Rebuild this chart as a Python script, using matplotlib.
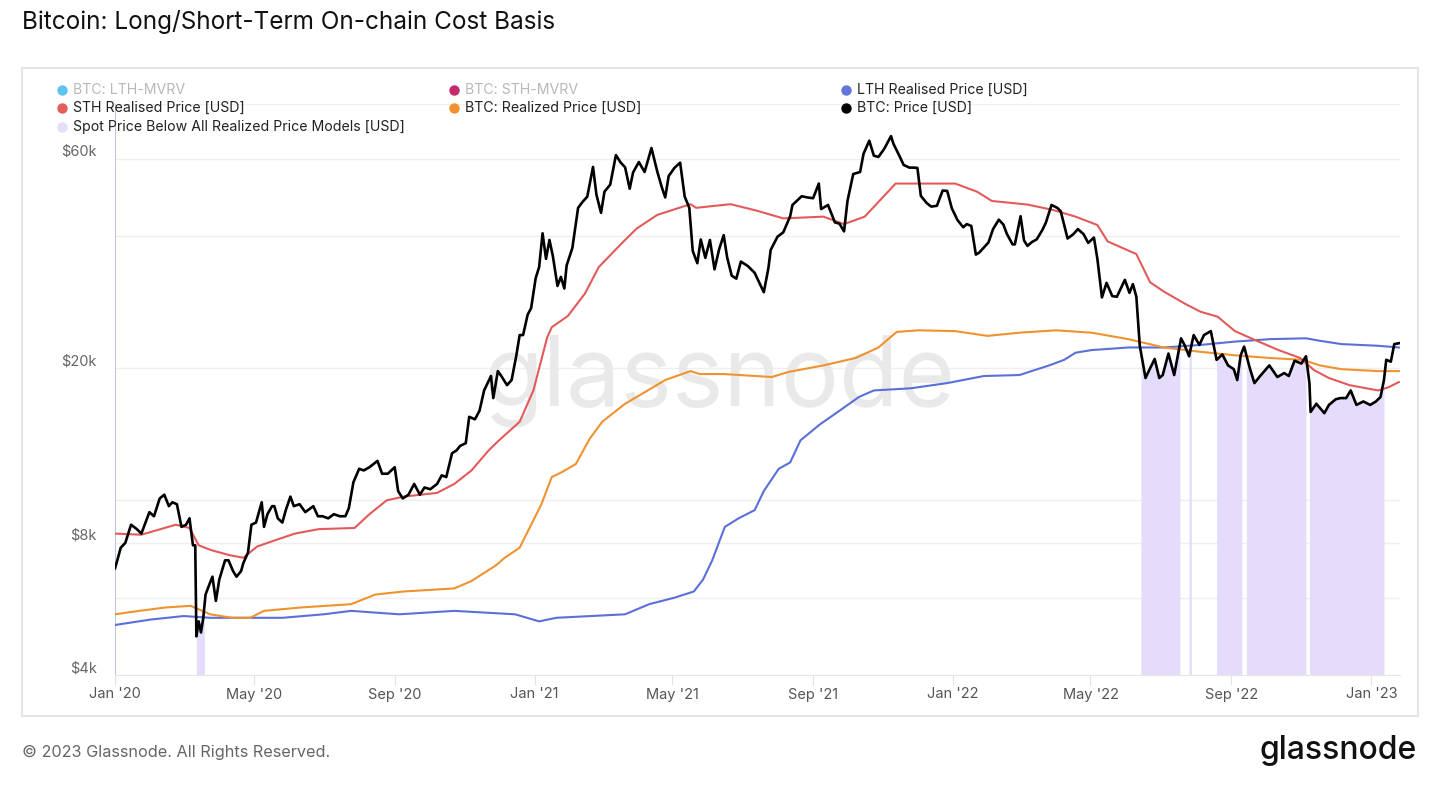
import numpy as np
import pandas as pd
import matplotlib
matplotlib.use('Agg')
import matplotlib.pyplot as plt
import matplotlib.dates as mdates
import matplotlib.transforms as mtransforms
from matplotlib.patches import Rectangle
from matplotlib.lines import Line2D

plt.rcParams['font.family'] = ['Inter', 'DejaVu Sans']

# BTC price (date, k USD)
price_pts = [
    ("2020-01-01", 7.0), ("2020-01-03", 7.3), ("2020-01-06", 7.8), ("2020-01-10", 8.0),
    ("2020-01-15", 8.8), ("2020-01-20", 8.6), ("2020-01-24", 8.4), ("2020-01-31", 9.4),
    ("2020-02-04", 9.2), ("2020-02-09", 10.1), ("2020-02-13", 10.3), ("2020-02-17", 9.7),
    ("2020-02-20", 9.9), ("2020-02-24", 9.8), ("2020-02-28", 8.7), ("2020-03-03", 8.8),
    ("2020-03-06", 9.1), ("2020-03-09", 7.9), ("2020-03-11", 7.9), ("2020-03-12", 4.9),
    ("2020-03-14", 5.3), ("2020-03-16", 5.0), ("2020-03-18", 5.4), ("2020-03-20", 6.1),
    ("2020-03-23", 6.4), ("2020-03-26", 6.7), ("2020-03-29", 5.9), ("2020-04-01", 6.6),
    ("2020-04-06", 7.3), ("2020-04-09", 7.3), ("2020-04-13", 6.9), ("2020-04-16", 6.7),
    ("2020-04-20", 6.9), ("2020-04-22", 7.2), ("2020-04-26", 7.6), ("2020-04-29", 8.8),
    ("2020-05-03", 8.9), ("2020-05-08", 9.9), ("2020-05-10", 8.7), ("2020-05-13", 9.3),
    ("2020-05-17", 9.7), ("2020-05-19", 9.7), ("2020-05-22", 9.1), ("2020-05-26", 8.9),
    ("2020-05-29", 9.5), ("2020-06-02", 10.2), ("2020-06-05", 9.7), ("2020-06-10", 9.8),
    ("2020-06-15", 9.4), ("2020-06-22", 9.7), ("2020-06-26", 9.2), ("2020-06-30", 9.2),
    ("2020-07-05", 9.1), ("2020-07-10", 9.3), ("2020-07-15", 9.2), ("2020-07-20", 9.2),
    ("2020-07-23", 9.6), ("2020-07-27", 11.0), ("2020-08-01", 11.8), ("2020-08-05", 11.7),
    ("2020-08-10", 11.9), ("2020-08-17", 12.3), ("2020-08-21", 11.5), ("2020-08-26", 11.5),
    ("2020-09-01", 11.9), ("2020-09-04", 10.5), ("2020-09-08", 10.1), ("2020-09-13", 10.3),
    ("2020-09-18", 10.9), ("2020-09-23", 10.3), ("2020-09-27", 10.7), ("2020-10-02", 10.6),
    ("2020-10-08", 10.9), ("2020-10-12", 11.4), ("2020-10-16", 11.3), ("2020-10-21", 12.8),
    ("2020-10-25", 13.0), ("2020-10-28", 13.3), ("2020-11-02", 13.5), ("2020-11-05", 15.5),
    ("2020-11-10", 15.3), ("2020-11-14", 16.0), ("2020-11-18", 17.8), ("2020-11-24", 19.2),
    ("2020-11-26", 17.1), ("2020-11-30", 19.7), ("2020-12-03", 19.2), ("2020-12-08", 18.3),
    ("2020-12-12", 18.8), ("2020-12-16", 21.3), ("2020-12-19", 23.8), ("2020-12-22", 23.8),
    ("2020-12-26", 26.5), ("2020-12-29", 27.4), ("2021-01-02", 32.1), ("2021-01-05", 34.0),
    ("2021-01-08", 40.6), ("2021-01-11", 35.5), ("2021-01-14", 39.2), ("2021-01-17", 36.0),
    ("2021-01-21", 30.8), ("2021-01-24", 32.3), ("2021-01-27", 30.4), ("2021-01-29", 34.3),
    ("2021-02-03", 37.6), ("2021-02-08", 46.4), ("2021-02-12", 47.9), ("2021-02-16", 49.2),
    ("2021-02-21", 57.5), ("2021-02-24", 49.7), ("2021-02-28", 45.2), ("2021-03-03", 50.5),
    ("2021-03-08", 52.4), ("2021-03-13", 61.2), ("2021-03-17", 58.9), ("2021-03-21", 57.4),
    ("2021-03-25", 51.3), ("2021-03-28", 55.9), ("2021-04-02", 59.0), ("2021-04-07", 56.0),
    ("2021-04-13", 63.5), ("2021-04-18", 56.2), ("2021-04-22", 51.7), ("2021-04-25", 49.0),
    ("2021-04-28", 54.8), ("2021-05-03", 57.2), ("2021-05-08", 58.8), ("2021-05-12", 49.2),
    ("2021-05-16", 46.4), ("2021-05-19", 37.0), ("2021-05-23", 34.7), ("2021-05-26", 39.3),
    ("2021-05-30", 35.7), ("2021-06-03", 39.2), ("2021-06-07", 33.6), ("2021-06-11", 37.3),
    ("2021-06-15", 40.2), ("2021-06-18", 35.8), ("2021-06-22", 32.5), ("2021-06-26", 32.0),
    ("2021-06-30", 35.0), ("2021-07-06", 34.2), ("2021-07-12", 33.0), ("2021-07-20", 29.8),
    ("2021-07-24", 33.8), ("2021-07-26", 37.2), ("2021-08-01", 39.9), ("2021-08-06", 40.8),
    ("2021-08-12", 44.4), ("2021-08-14", 47.1), ("2021-08-22", 49.3), ("2021-08-27", 49.0),
    ("2021-09-01", 48.8), ("2021-09-06", 52.7), ("2021-09-08", 46.1), ("2021-09-14", 47.1),
    ("2021-09-20", 43.0), ("2021-09-24", 42.7), ("2021-09-28", 41.0), ("2021-10-01", 48.1),
    ("2021-10-06", 55.4), ("2021-10-12", 56.0), ("2021-10-15", 61.6), ("2021-10-20", 66.0),
    ("2021-10-24", 61.0), ("2021-10-28", 60.6), ("2021-11-02", 63.2), ("2021-11-08", 67.6),
    ("2021-11-10", 65.0), ("2021-11-16", 60.4), ("2021-11-19", 58.1), ("2021-11-24", 57.3),
    ("2021-11-28", 57.3), ("2021-12-01", 57.2), ("2021-12-04", 49.4), ("2021-12-09", 47.6),
    ("2021-12-13", 46.7), ("2021-12-18", 46.9), ("2021-12-23", 50.8), ("2021-12-27", 50.7),
    ("2021-12-31", 46.3), ("2022-01-05", 43.5), ("2022-01-10", 41.9), ("2022-01-13", 42.6),
    ("2022-01-17", 42.2), ("2022-01-21", 36.3), ("2022-01-24", 36.7), ("2022-01-28", 37.7),
    ("2022-02-01", 38.7), ("2022-02-05", 41.5), ("2022-02-10", 43.6), ("2022-02-14", 42.5),
    ("2022-02-17", 40.5), ("2022-02-22", 38.3), ("2022-02-24", 38.3), ("2022-03-01", 44.4),
    ("2022-03-04", 39.1), ("2022-03-07", 38.0), ("2022-03-11", 38.8), ("2022-03-15", 39.3),
    ("2022-03-20", 41.3), ("2022-03-23", 42.9), ("2022-03-28", 47.1), ("2022-04-02", 46.4),
    ("2022-04-05", 45.6), ("2022-04-11", 39.5), ("2022-04-16", 40.4), ("2022-04-20", 41.5),
    ("2022-04-25", 40.4), ("2022-04-29", 38.6), ("2022-05-04", 39.7), ("2022-05-07", 35.5),
    ("2022-05-11", 29.0), ("2022-05-15", 31.3), ("2022-05-20", 29.2), ("2022-05-24", 29.1),
    ("2022-05-31", 31.8), ("2022-06-04", 29.7), ("2022-06-07", 31.1), ("2022-06-10", 29.1),
    ("2022-06-13", 22.5), ("2022-06-18", 19.0), ("2022-06-22", 20.0), ("2022-06-26", 21.0),
    ("2022-06-30", 19.0), ("2022-07-03", 19.3), ("2022-07-08", 21.6), ("2022-07-13", 19.3),
    ("2022-07-19", 23.4), ("2022-07-22", 22.6), ("2022-07-26", 21.3), ("2022-07-30", 23.8),
    ("2022-08-04", 22.6), ("2022-08-08", 23.8), ("2022-08-14", 24.3), ("2022-08-19", 20.9),
    ("2022-08-24", 21.5), ("2022-08-29", 20.3), ("2022-09-03", 19.9), ("2022-09-06", 18.8),
    ("2022-09-09", 21.4), ("2022-09-12", 22.4), ("2022-09-17", 20.0), ("2022-09-21", 18.5),
    ("2022-09-26", 19.2), ("2022-10-04", 20.3), ("2022-10-11", 19.1), ("2022-10-17", 19.5),
    ("2022-10-21", 19.2), ("2022-10-26", 20.8), ("2022-11-01", 20.5), ("2022-11-05", 21.3),
    ("2022-11-08", 18.5), ("2022-11-09", 15.9), ("2022-11-14", 16.6), ("2022-11-21", 15.8),
    ("2022-11-25", 16.5), ("2022-12-01", 17.0), ("2022-12-05", 17.1), ("2022-12-10", 17.1),
    ("2022-12-14", 17.8), ("2022-12-19", 16.5), ("2022-12-25", 16.8), ("2022-12-31", 16.5),
    ("2023-01-05", 16.8), ("2023-01-09", 17.2), ("2023-01-12", 18.8), ("2023-01-14", 20.9),
    ("2023-01-18", 20.7), ("2023-01-21", 22.7), ("2023-01-25", 22.8),
]

# STH realised price (k USD)
sth_pts = [
    ("2020-01-01", 8.4), ("2020-01-24", 8.35), ("2020-02-23", 8.8), ("2020-03-06", 8.65),
    ("2020-03-14", 7.9), ("2020-03-25", 7.7), ("2020-04-10", 7.5), ("2020-04-22", 7.4),
    ("2020-05-04", 7.85), ("2020-05-19", 8.1), ("2020-06-06", 8.4), ("2020-06-27", 8.6),
    ("2020-07-28", 8.65), ("2020-08-10", 9.3), ("2020-08-25", 10.0), ("2020-09-09", 10.2),
    ("2020-10-08", 10.4), ("2020-10-23", 10.9), ("2020-11-07", 11.7), ("2020-11-22", 13.0),
    ("2020-12-01", 13.7), ("2020-12-19", 15.1), ("2020-12-31", 17.8), ("2021-01-12", 23.5),
    ("2021-01-16", 24.8), ("2021-01-30", 26.3), ("2021-02-14", 29.6), ("2021-02-26", 34.0),
    ("2021-03-18", 38.5), ("2021-03-31", 41.6), ("2021-04-18", 44.7), ("2021-05-05", 46.2),
    ("2021-05-17", 47.3), ("2021-05-22", 46.4), ("2021-06-21", 47.3), ("2021-07-14", 45.7),
    ("2021-08-06", 43.9), ("2021-09-10", 44.3), ("2021-09-28", 42.6), ("2021-10-16", 44.3),
    ("2021-11-12", 52.7), ("2021-11-29", 52.7), ("2022-01-03", 52.7), ("2022-01-22", 50.5),
    ("2022-02-04", 48.1), ("2022-03-07", 47.2), ("2022-03-29", 45.9), ("2022-04-18", 44.3),
    ("2022-05-07", 42.4), ("2022-05-16", 38.9), ("2022-06-10", 36.4), ("2022-06-22", 31.4),
    ("2022-07-04", 29.9), ("2022-07-23", 28.0), ("2022-08-05", 26.9), ("2022-08-20", 26.2),
    ("2022-09-04", 24.3), ("2022-09-23", 23.1), ("2022-10-12", 22.0), ("2022-10-31", 21.1),
    ("2022-11-12", 19.8), ("2022-11-25", 19.0), ("2022-12-13", 18.3), ("2023-01-07", 17.8),
    ("2023-01-16", 18.1), ("2023-01-25", 18.6),
]

# Realized price (k USD)
realized_pts = [
    ("2020-01-01", 5.5), ("2020-01-22", 5.6), ("2020-02-14", 5.7), ("2020-03-07", 5.75),
    ("2020-03-24", 5.5), ("2020-04-12", 5.4), ("2020-04-28", 5.4), ("2020-05-10", 5.6),
    ("2020-06-11", 5.7), ("2020-07-25", 5.8), ("2020-08-15", 6.1), ("2020-09-09", 6.2),
    ("2020-10-23", 6.3), ("2020-11-07", 6.55), ("2020-11-28", 7.1), ("2020-12-06", 7.4),
    ("2020-12-19", 7.8), ("2020-12-30", 8.9), ("2021-01-07", 9.8), ("2021-01-16", 11.3),
    ("2021-01-25", 11.6), ("2021-02-06", 12.1), ("2021-02-18", 13.8), ("2021-03-01", 15.1),
    ("2021-03-21", 16.6), ("2021-04-05", 17.5), ("2021-04-25", 18.8), ("2021-05-17", 19.7),
    ("2021-05-25", 19.4), ("2021-06-15", 19.4), ("2021-07-27", 19.1), ("2021-08-10", 19.6),
    ("2021-09-10", 20.3), ("2021-10-08", 21.1), ("2021-10-28", 22.3), ("2021-11-13", 24.2),
    ("2021-12-02", 24.4), ("2022-01-03", 24.3), ("2022-01-31", 23.7), ("2022-02-28", 24.1),
    ("2022-04-01", 24.4), ("2022-05-02", 24.1), ("2022-06-03", 23.3), ("2022-07-04", 22.3),
    ("2022-08-05", 21.8), ("2022-09-04", 21.4), ("2022-10-05", 21.1), ("2022-11-02", 20.9),
    ("2022-11-17", 20.3), ("2022-12-06", 19.9), ("2023-01-07", 19.7), ("2023-01-25", 19.7),
]

# LTH realised price (k USD)
lth_pts = [
    ("2020-01-01", 5.2), ("2020-02-01", 5.35), ("2020-03-01", 5.45), ("2020-03-24", 5.4),
    ("2020-05-26", 5.4), ("2020-07-01", 5.5), ("2020-07-25", 5.6), ("2020-09-05", 5.5),
    ("2020-10-23", 5.6), ("2020-12-15", 5.5), ("2021-01-05", 5.3), ("2021-01-20", 5.4),
    ("2021-03-21", 5.5), ("2021-04-11", 5.8), ("2021-05-03", 6.0), ("2021-05-20", 6.2),
    ("2021-05-28", 6.6), ("2021-06-05", 7.3), ("2021-06-16", 8.7), ("2021-06-28", 9.1),
    ("2021-07-12", 9.5), ("2021-07-20", 10.5), ("2021-08-02", 11.8), ("2021-08-12", 12.2),
    ("2021-08-21", 13.7), ("2021-09-07", 14.9), ("2021-09-24", 16.0), ("2021-10-11", 17.2),
    ("2021-10-24", 17.8), ("2021-11-25", 18.0), ("2021-12-27", 18.5), ("2022-01-28", 19.2),
    ("2022-02-28", 19.3), ("2022-03-26", 20.3), ("2022-04-08", 20.9), ("2022-04-18", 21.7),
    ("2022-05-02", 22.0), ("2022-06-03", 22.3), ("2022-07-04", 22.3), ("2022-08-05", 22.6),
    ("2022-09-04", 23.0), ("2022-10-05", 23.3), ("2022-11-05", 23.4), ("2022-11-17", 23.1),
    ("2022-12-06", 22.7), ("2023-01-07", 22.5), ("2023-01-25", 22.3),
]

# periods where spot price is below all realized price models
below_periods = [
    ("2020-03-12", "2020-03-19"), ("2022-06-14", "2022-07-18"), ("2022-07-26", "2022-07-28"),
    ("2022-08-19", "2022-09-10"), ("2022-09-14", "2022-11-05"), ("2022-11-08", "2023-01-12"),
]

y_gridlines = [6000, 8000, 10000, 20000, 40000, 60000, 80000]
y_labels = {60000: "$60k", 20000: "$20k", 8000: "$8k", 4000: "$4k"}


def to_series(pts):
    d = pd.to_datetime([p[0] for p in pts])
    v = np.array([p[1] for p in pts]) * 1000
    return d, v


W, H = 1440, 790
fig = plt.figure(figsize=(W / 100, H / 100), dpi=100)
fig.patch.set_facecolor('white')


def fx(px):
    return px / W


def fy(py):
    return 1 - py / H


# outer frame
fig.add_artist(Rectangle((fx(22), fy(716)), fx(1418) - fx(22), fy(68) - fy(716),
                         transform=fig.transFigure, fill=False, edgecolor='#e4e4e4', lw=1.5))

ax = fig.add_axes([fx(115), fy(675), fx(1400) - fx(115), fy(104) - fy(675)])
ax.set_yscale('log')
ax.set_ylim(4000, 80000)
ax.set_xlim(pd.Timestamp("2020-01-01"), pd.Timestamp("2023-01-26"))

for s in ['top', 'right', 'left']:
    ax.spines[s].set_visible(False)
ax.spines['bottom'].set_color('#e6e6e6')
ax.axvline(pd.Timestamp("2020-01-01"), color='#a9b9ee', lw=1.2, zorder=2)

for g in y_gridlines:
    ax.axhline(g, color='#efefef', lw=1, zorder=0)

ax.yaxis.set_major_locator(matplotlib.ticker.NullLocator())
ax.yaxis.set_minor_locator(matplotlib.ticker.NullLocator())
off = mtransforms.offset_copy(ax.get_yaxis_transform(), fig=fig, x=-18, y=7, units='dots')
for v, lab in y_labels.items():
    ax.text(0, v, lab, transform=off, ha='right', va='center', fontsize=10.5, color='#666666')

ax.xaxis.set_major_locator(mdates.MonthLocator(bymonth=[1, 5, 9]))
ax.xaxis.set_major_formatter(mdates.DateFormatter("%b '%y"))
ax.tick_params(axis='x', length=7, color='#e2e2e2', labelsize=10.5, labelcolor='#555555', pad=2)

# watermark
ax.text(0.47, 0.515, 'glassnode', transform=ax.transAxes, fontsize=70, color='#e9e9e9',
        ha='center', va='center', zorder=0.5)

pd_, pv = to_series(price_pts)
pnum = mdates.date2num(pd_)
for s, e in below_periods:
    d = pd.date_range(s, e, freq='D')
    dn = mdates.date2num(d)
    top = np.exp(np.interp(dn, pnum, np.log(pv)))
    ax.fill_between(d, 4000, top, color='#e4dcfa', lw=0, zorder=1)

d, v = to_series(lth_pts)
ax.plot(d, v, color='#5a6fd8', lw=1.5, zorder=3)
d, v = to_series(realized_pts)
ax.plot(d, v, color='#ef9230', lw=1.5, zorder=3)
d, v = to_series(sth_pts)
ax.plot(d, v, color='#e35a5a', lw=1.5, zorder=3)
ax.plot(pd_, pv, color='#000000', lw=1.9, zorder=4)

# legend
legend_items = [
    ("BTC: LTH-MVRV", '#5fc3ef', False), ("BTC: STH-MVRV", '#c42a6c', False),
    ("LTH Realised Price [USD]", '#6275d8', True),
    ("STH Realised Price [USD]", '#e35d5d', True), ("BTC: Realized Price [USD]", '#ef922f', True),
    ("BTC: Price [USD]", '#000000', True),
    ("Spot Price Below All Realized Price Models [USD]", '#e5ddfa', True),
]
col_x = [62, 454, 846]
row_y = [90, 108, 127]
for i, (lab, c, on) in enumerate(legend_items):
    r, col = divmod(i, 3)
    x, y = col_x[col], row_y[r]
    fig.add_artist(Line2D([fx(x)], [fy(y)], marker='o', markersize=7.5, color=c,
                          markeredgewidth=0, transform=fig.transFigure))
    fig.text(fx(x + 11), fy(y), lab, ha='left', va='center', fontsize=10.2,
             color='#222222' if on else '#b8b8b8')

fig.text(fx(22), fy(22), 'Bitcoin: Long/Short-Term On-chain Cost Basis', fontsize=17.5,
         ha='left', va='center', color='#111111')
fig.text(fx(22), fy(752), '\u00a9 2023 Glassnode. All Rights Reserved.', fontsize=11.7,
         ha='left', va='center', color='#666666')
fig.text(fx(1417), fy(750), 'glassnode', fontsize=23, ha='right', va='center',
         color='#111111', fontweight='medium')

fig.savefig('out.png', dpi=100)
